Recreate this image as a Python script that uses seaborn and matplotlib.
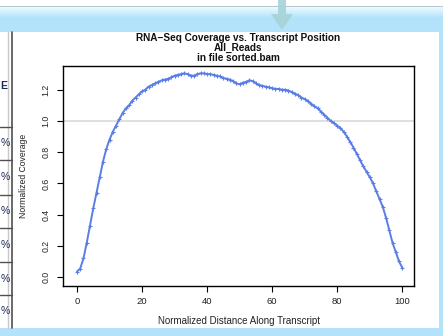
import numpy as np
import pandas as pd
import matplotlib
matplotlib.use("Agg")
import matplotlib.pyplot as plt
from matplotlib.patches import Rectangle, Polygon
from matplotlib.colors import LinearSegmentedColormap
import seaborn as sns

# ---- data ----
position = list(range(0, 101))
coverage = [
    0.035, 0.055, 0.12, 0.22, 0.33, 0.44, 0.54, 0.64, 0.74, 0.82,
    0.88, 0.93, 0.97, 1.01, 1.05, 1.08, 1.10, 1.13, 1.15, 1.17,
    1.19, 1.20, 1.22, 1.23, 1.24, 1.25, 1.26, 1.265, 1.27, 1.28,
    1.29, 1.295, 1.30, 1.305, 1.30, 1.29, 1.29, 1.30, 1.305, 1.305,
    1.30, 1.30, 1.295, 1.29, 1.285, 1.275, 1.27, 1.265, 1.255, 1.24,
    1.235, 1.245, 1.25, 1.26, 1.255, 1.24, 1.23, 1.225, 1.22, 1.215,
    1.21, 1.205, 1.205, 1.20, 1.20, 1.195, 1.185, 1.175, 1.165, 1.15,
    1.14, 1.125, 1.11, 1.095, 1.08, 1.06, 1.04, 1.02, 1.00, 0.985,
    0.97, 0.955, 0.93, 0.90, 0.865, 0.83, 0.79, 0.75, 0.71, 0.675,
    0.64, 0.60, 0.55, 0.50, 0.45, 0.38, 0.30, 0.22, 0.16, 0.10,
    0.06,
]
x_ticks = [0, 20, 40, 60, 80, 100]
y_ticks = [0.0, 0.2, 0.4, 0.6, 0.8, 1.0, 1.2]
y_tick_labels = ["0.0", "0.2", "0.4", "0.6", "0.8", "1.0", "1.2"]
title_lines = ["RNA\u2212Seq Coverage vs. Transcript Position", "All_Reads", "in file sorted.bam"]
x_label = "Normalized Distance Along Transcript"
y_label = "Normalized Coverage"

df = pd.DataFrame({"pos": position, "cov": coverage})

sns.set_theme(style="ticks")
plt.rcParams["font.family"] = ["Liberation Sans", "DejaVu Sans"]

W, H = 443, 336
fig = plt.figure(figsize=(W / 100, H / 100), dpi=100)
fig.patch.set_facecolor("white")

# ---- background decorations (pixel coordinates) ----
bg = fig.add_axes([0, 0, 1, 1], zorder=0)
bg.set_xlim(0, W)
bg.set_ylim(H, 0)
bg.axis("off")
blue = "#b3e2fb"
bg.add_patch(Rectangle((0, 0), W, H, color="white", lw=0))
bg.add_patch(Rectangle((0, 6), W, 1.2, color="#b8c4c8", lw=0))
grad = np.linspace(0, 1, 50).reshape(-1, 1)
cm = LinearSegmentedColormap.from_list("g", ["#eafcff", blue])
bg.imshow(grad, cmap=cm, extent=(0, W, 18, 7), aspect="auto", zorder=1)
bg.add_patch(Rectangle((0, 18), W, 14, color=blue, lw=0, zorder=1))
bg.add_patch(Rectangle((439, 32), 4, H - 32, color=blue, lw=0, zorder=1))
bg.add_patch(Rectangle((0, 328), W, 8, color=blue, lw=0, zorder=1))
# arrow
arrow_col = "#a6d3d8"
bg.add_patch(Polygon([(278, 0), (286, 0), (286, 14), (293, 14), (282, 30),
                      (271, 14), (278, 14)], closed=True, color=arrow_col,
                     lw=0, alpha=0.9, zorder=2))
# left table fragment
bg.plot([8.5, 8.5], [32, 328], color="#c8c8c8", lw=1, zorder=2)
bg.plot([12.5, 12.5], [32, 328], color="#505050", lw=1.2, zorder=2)
for yy in [127, 160, 195, 228, 262, 295]:
    bg.plot([0, 12.5], [yy, yy], color="#505050", lw=1, zorder=2)
for yy in [143, 177, 211, 245, 279, 311]:
    bg.text(0.5, yy, "%", fontsize=7.5, color="#1c2a5a", ha="left",
            va="center", zorder=3)
bg.text(0.5, 86, "E", fontsize=7.5, color="#1c2a5a", ha="left",
        va="center", fontweight="bold", zorder=3)

# ---- main chart ----
left, right, top, bottom = 63, 414, 66, 286
ax = fig.add_axes([left / W, 1 - bottom / H, (right - left) / W, (bottom - top) / H], zorder=5)
ax.set_facecolor("white")
ax.axhline(1.0, color="#d9d9d9", lw=1.2, zorder=1)
sns.lineplot(data=df, x="pos", y="cov", ax=ax, color="#5b7ee6", lw=1.4,
             marker="+", markersize=3.5, markeredgewidth=0.8,
             markeredgecolor="#5b7ee6", zorder=3)
ax.set_xlim(-4.3, 103.6)
ax.set_ylim(-0.057, 1.352)
ax.set_xticks(x_ticks)
ax.set_xticklabels([str(t) for t in x_ticks])
ax.set_yticks(y_ticks)
ax.set_yticklabels(y_tick_labels, rotation=90, va="center")
ax.tick_params(axis="both", direction="out", length=4, width=0.8,
               color="black", labelcolor="#222222", pad=3)
ax.tick_params(axis="x", labelsize=6.8, pad=4)
ax.tick_params(axis="y", labelsize=6.3, pad=5)
for s in ax.spines.values():
    s.set_visible(True)
    s.set_color("black")
    s.set_linewidth(1.0)
ax.set_xlabel(x_label, fontsize=7, color="#222222", labelpad=7)
ax.set_ylabel(y_label, fontsize=6.2, color="#222222", labelpad=10)
ax.grid(False)

for i, (t, yy) in enumerate(zip(title_lines, [38, 48, 58])):
    fig.text(238 / W, 1 - yy / H, t, ha="center", va="center",
             fontsize=7.2, fontweight="bold", color="#111111", zorder=6)

fig.savefig("out.png", dpi=100)
